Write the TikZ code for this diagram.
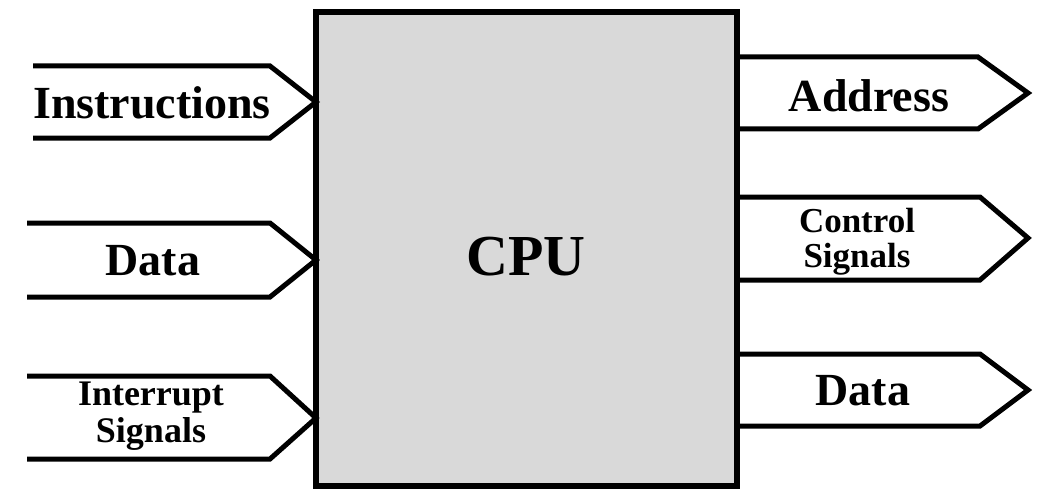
\documentclass[tikz,border=0pt]{standalone}
\usepackage{fontspec}
\setmainfont{Liberation Serif}
\usepackage{tikz}

\begin{document}
\begin{tikzpicture}[x=1pt, y=-1pt,
    bus/.style={line width=5pt},
    big/.style={font=\bfseries\fontsize{46}{46}\selectfont, anchor=base},
    small/.style={font=\bfseries\fontsize{36}{37}\selectfont, align=center, anchor=base}]
    \useasboundingbox (0, 0) rectangle (1038, 492);

    % The processor
    \node[draw, line width=6pt, fill={rgb,255:red,217;green,217;blue,217}, outer sep=0pt,
          minimum width=421pt, minimum height=474pt] (cpu) at (526.5, 249) {};
    \node[font=\bfseries\fontsize{58}{58}\selectfont, anchor=base] (cpuText) at (526, 275) {CPU};

    % Inputs
    \draw[bus] (33, 66) -- (270, 66) -- (cpu.west |- 0, 102) -- (270, 138) -- (33, 138);
    \draw[bus] (27, 223) -- (270, 223) -- (cpu.west |- 0, 260) -- (270, 297) -- (27, 297);
    \draw[bus] (27, 376) -- (270, 376) -- (cpu.west |- 0, 418) -- (270, 459) -- (27, 459);
    \node[big] (inst) at (152, 118) {Instructions};
    \node[big] (dataIn) at (153, 275) {Data};
    \node[small] (intr) at (151, 442) {Interrupt\\Signals};

    % Outputs
    \draw[bus] (cpu.east |- 0, 57) -- (978, 57) -- (1028, 93) -- (978, 129) -- (cpu.east |- 0, 129);
    \draw[bus] (cpu.east |- 0, 197) -- (980, 197) -- (1028, 238) -- (980, 280) -- (cpu.east |- 0, 280);
    \draw[bus] (cpu.east |- 0, 354) -- (980, 354) -- (1028, 390) -- (980, 426) -- (cpu.east |- 0, 426);
    \node[big] (addr) at (869, 112) {Address};
    \node[small, font=\bfseries\fontsize{35}{35}\selectfont] (ctrl) at (857, 267) {Control\\Signals};
    \node[big] (dataOut) at (863, 405) {Data};
\end{tikzpicture}
\end{document}
